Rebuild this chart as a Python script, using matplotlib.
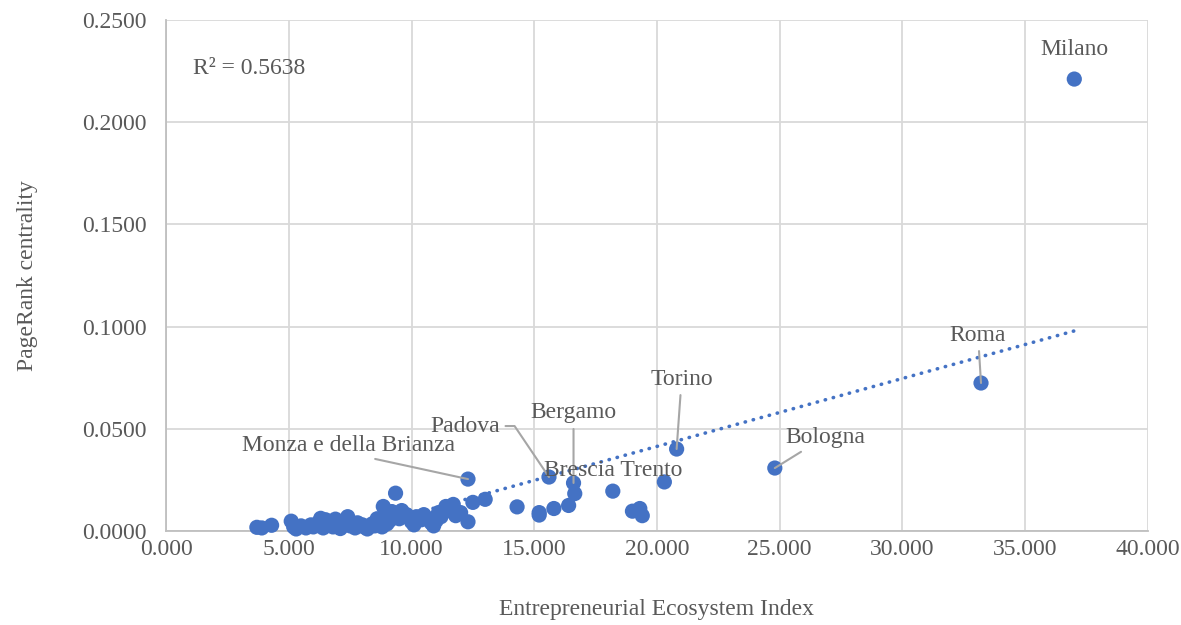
import numpy as np
import matplotlib
matplotlib.use("Agg")
import matplotlib.pyplot as plt
from matplotlib.ticker import FormatStrFormatter

# Entrepreneurial Ecosystem Index vs PageRank centrality, per provincia
eei = [3.7, 3.9, 4.3, 5.1, 5.2, 5.3, 5.5, 5.7, 5.9, 6.0,
       6.2, 6.3, 6.4, 6.5, 6.6, 6.8, 6.9, 7.0, 7.1, 7.3,
       7.4, 7.5, 7.7, 7.8, 8.0, 8.1, 8.2, 8.4, 8.5, 8.6,
       8.7, 8.8, 8.85, 8.9, 9.0, 9.1, 9.2, 9.35, 9.5, 9.6,
       9.8, 10.0, 10.1, 10.2, 10.4, 10.5, 10.7, 10.8, 10.9, 11.0,
       11.1, 11.2, 11.4, 11.5, 11.7, 11.8, 12.0, 12.3, 12.5, 13.0,
       12.3, 14.3, 15.2, 15.2, 15.6, 15.8, 16.4, 16.6, 16.65, 18.2,
       19.0, 19.3, 19.4, 20.3, 20.8, 24.8, 33.2, 37.0]
pagerank = [0.0018, 0.0015, 0.0028, 0.0048, 0.0020, 0.0010, 0.0025, 0.0015, 0.0030, 0.0020,
            0.0040, 0.0062, 0.0015, 0.0055, 0.0030, 0.0020, 0.0058, 0.0035, 0.0012, 0.0045,
            0.0070, 0.0025, 0.0015, 0.0040, 0.0030, 0.0018, 0.0010, 0.0035, 0.0025, 0.0060,
            0.0045, 0.0020, 0.0120, 0.0075, 0.0035, 0.0050, 0.0095, 0.0185, 0.0060, 0.0100,
            0.0080, 0.0045, 0.0030, 0.0070, 0.0055, 0.0080, 0.0060, 0.0040, 0.0025, 0.0050,
            0.0090, 0.0070, 0.0120, 0.0100, 0.0130, 0.0075, 0.0090, 0.0045, 0.0140, 0.0155,
            0.0254, 0.0118, 0.0090, 0.0078, 0.0264, 0.0110, 0.0125, 0.0235, 0.0183, 0.0195,
            0.0097, 0.0110, 0.0075, 0.0240, 0.0401, 0.0308, 0.0724, 0.2211]

# province con etichetta: (nome, indice punto)
labelled = {"Milano": 77, "Roma": 76, "Bologna": 75, "Torino": 74,
            "Bergamo": 67, "Padova": 64, "Monza e della Brianza": 60}

BLUE = "#4472C4"
GREY_TXT = "#595959"
LEAD = "#A6A6A6"
FS = 17

plt.rcParams["font.family"] = ["Liberation Serif", "DejaVu Serif"]

x = np.array(eei)
y = np.array(pagerank)
b1, b0 = np.polyfit(x, y, 1)

fig = plt.figure(figsize=(11.81, 6.25), dpi=100)
ax = fig.add_axes([0.1406, 0.1504, 0.972 - 0.1406, 0.968 - 0.1504])

ax.scatter(x, y, s=120, color=BLUE, edgecolors="none", zorder=3, clip_on=False)

xl = np.array([x.min(), x.max()])
ax.plot(xl, b0 + b1 * xl, color=BLUE, lw=2.6, linestyle=(0, (0.1, 2.2)),
        dash_capstyle="round", zorder=2)

ax.set_xlim(0, 40)
ax.set_ylim(0, 0.25)
ax.set_xticks(np.arange(0, 40.1, 5))
ax.set_yticks(np.arange(0, 0.2501, 0.05))
ax.xaxis.set_major_formatter(FormatStrFormatter("%.3f"))
ax.yaxis.set_major_formatter(FormatStrFormatter("%.4f"))
ax.grid(True, color="#D9D9D9", lw=1.3)
ax.set_axisbelow(True)
for s in ("top", "right"):
    ax.spines[s].set_visible(False)
for s in ("left", "bottom"):
    ax.spines[s].set_color("#BFBFBF")
    ax.spines[s].set_linewidth(1.3)
ax.tick_params(length=0, labelsize=FS, labelcolor=GREY_TXT)
ax.tick_params(axis="y", pad=14)
ax.tick_params(axis="x", pad=6)

ax.set_xlabel("Entrepreneurial Ecosystem Index", fontsize=FS, color=GREY_TXT, labelpad=28)
ax.set_ylabel("PageRank centrality", fontsize=FS, color=GREY_TXT, labelpad=32)

ax.text(1.1, 0.2265, "R² = 0.5638", fontsize=FS, color=GREY_TXT, va="center")

# etichette con linee guida
txt = dict(fontsize=FS, color=GREY_TXT, va="center")
line = dict(arrowstyle="-", color=LEAD, lw=1.5, shrinkA=2, shrinkB=0)

i = labelled["Milano"]
ax.annotate("Milano", (x[i], y[i]), xytext=(0, 30), textcoords="offset pixels",
            ha="center", **txt)
i = labelled["Roma"]
ax.annotate("Roma", (x[i], y[i]), xytext=(-3, 48), textcoords="offset pixels",
            ha="center", arrowprops=line, **txt)
i = labelled["Torino"]
ax.annotate("Torino", (x[i], y[i]), xytext=(5, 70), textcoords="offset pixels",
            ha="center", arrowprops=line, **txt)
i = labelled["Bologna"]
ax.annotate("Bologna", (x[i], y[i]), xytext=(50, 31), textcoords="offset pixels",
            ha="center", arrowprops=line, **txt)
i = labelled["Bergamo"]
ax.annotate("Bergamo", (x[i], y[i]), xytext=(0, 70), textcoords="offset pixels",
            ha="center", arrowprops=line, **txt)
i = labelled["Padova"]
ax.annotate("Padova", (x[i], y[i]), xytext=(-49, 51), textcoords="offset pixels",
            ha="right", arrowprops=dict(line, relpos=(1, 0.5),
                                        connectionstyle="angle,angleA=0,angleB=124,rad=0"),
            **txt)
i = labelled["Monza e della Brianza"]
ax.annotate("Monza e della Brianza", (x[i], y[i]), xytext=(-119, 34),
            textcoords="offset pixels", ha="center",
            arrowprops=dict(line, relpos=(0.55, 0)), **txt)
ax.text(18.2, 0.0298, "Brescia Trento", ha="center", **txt)

fig.savefig("out.png", dpi=100)
